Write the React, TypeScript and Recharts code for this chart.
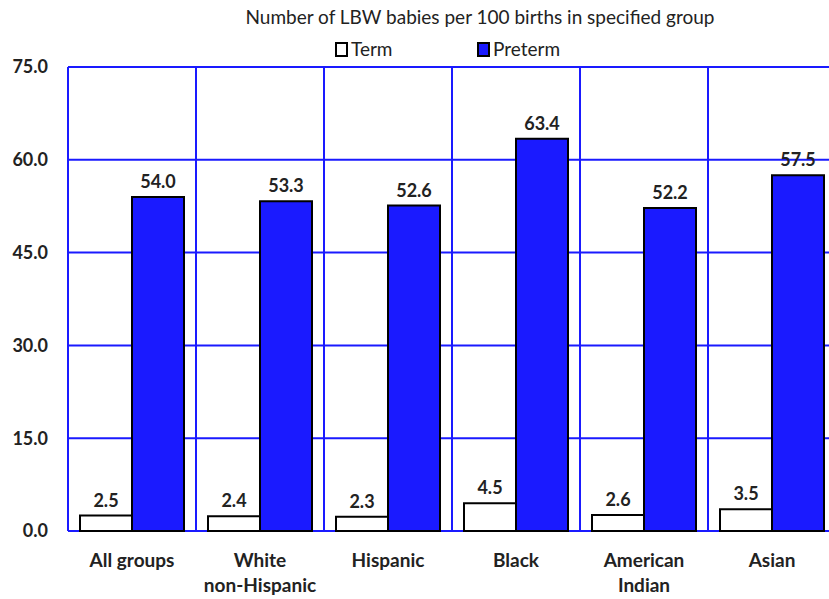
import React from "react";
import { BarChart, Bar, XAxis, YAxis, CartesianGrid, LabelList } from "recharts";

// LBW babies per 100 births, term vs preterm, by group

const categories = ["All groups", "White\nnon-Hispanic", "Hispanic", "Black", "American\nIndian", "Asian"];
const termValues = [2.5, 2.4, 2.3, 4.5, 2.6, 3.5];
const pretermValues = [54.0, 53.3, 52.6, 63.4, 52.2, 57.5];
const yTicks = [0, 15, 30, 45, 60, 75];

const chartData = categories.map((name, i) => ({
  name,
  term: termValues[i],
  preterm: pretermValues[i],
}));

const FONT = "Lato, 'Open Sans', sans-serif";
const BLUE = "#1a1aff";

const CategoryTick = (props: any) => {
  const { x, y, payload } = props;
  const lines = String(payload.value).split("\n");
  return (
    <text x={x} y={y} textAnchor="middle" fontFamily={FONT} fontSize={19} fontWeight={700} fill="#222">
      {lines.map((line, i) => (
        <tspan key={i} x={x} dy={i === 0 ? 28 : 25}>
          {line}
        </tspan>
      ))}
    </text>
  );
};

// vertical grid at category boundaries rather than centers
const boundaryLines = ({ offset }: any) =>
  categories.map((_, i) => offset.left + (i * offset.width) / categories.length).concat(offset.left + offset.width);

const legendItem = (left: number, fill: string, label: string) => (
  <div
    style={{
      position: "absolute",
      top: 38,
      left,
      fontFamily: FONT,
      fontSize: 19,
      lineHeight: "22px",
      color: "#222",
      display: "flex",
      alignItems: "center",
    }}
  >
    <span style={{ display: "inline-block", width: 9, height: 11, border: "2px solid #000", background: fill, marginRight: 3 }} />
    {label}
  </div>
);

export default function App() {
  return (
    <div style={{ position: "absolute", left: 0, top: 0, width: 829, height: 599, overflow: "hidden", background: "#fff" }}>
      <div
        style={{
          position: "absolute",
          top: 6,
          left: 0,
          width: 960,
          textAlign: "center",
          fontFamily: FONT,
          fontSize: 19,
          lineHeight: "22px",
          color: "#222",
        }}
      >
        Number of LBW babies per 100 births in specified group
      </div>
      {legendItem(335, "#fff", "Term")}
      {legendItem(477, BLUE, "Preterm")}
      <BarChart
        width={840}
        height={599}
        data={chartData}
        margin={{ top: 67, right: 4, left: 0, bottom: 0 }}
        barCategoryGap={12}
        barGap={0}
      >
        <CartesianGrid stroke={BLUE} strokeWidth={2} verticalCoordinatesGenerator={boundaryLines} />
        <XAxis dataKey="name" height={68} tick={<CategoryTick />} tickLine={false} axisLine={false} interval={0} />
        <YAxis
          width={68}
          domain={[0, 75]}
          ticks={yTicks}
          tickFormatter={(v: number) => v.toFixed(1)}
          tick={{ fontFamily: FONT, fontSize: 18, fontWeight: 700, fill: "#222" }}
          tickLine={false}
          axisLine={false}
          tickMargin={14}
        />
        <Bar dataKey="term" fill="#fff" stroke="#000" strokeWidth={2} isAnimationActive={false}>
          <LabelList
            dataKey="term"
            position="top"
            offset={9}
            formatter={(v: any) => Number(v).toFixed(1)}
            style={{ fontFamily: FONT, fontSize: 18, fontWeight: 700, fill: "#222" }}
          />
        </Bar>
        <Bar dataKey="preterm" fill={BLUE} stroke="#000" strokeWidth={2} isAnimationActive={false}>
          <LabelList
            dataKey="preterm"
            position="top"
            offset={9}
            formatter={(v: any) => Number(v).toFixed(1)}
            style={{ fontFamily: FONT, fontSize: 18, fontWeight: 700, fill: "#222" }}
          />
        </Bar>
      </BarChart>
    </div>
  );
}
